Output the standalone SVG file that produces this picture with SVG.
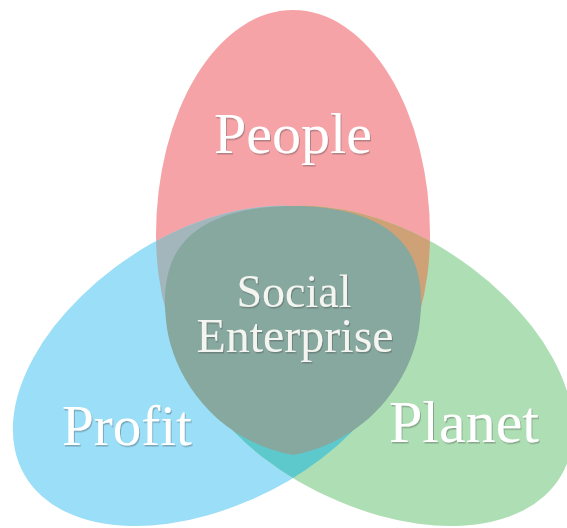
<svg xmlns="http://www.w3.org/2000/svg" width="567" height="528" viewBox="0 0 567 528">
  <style>
    .lbl { font-family: "Liberation Serif", "Times New Roman", serif; fill: #ffffff; text-anchor: middle; filter: url(#shadow); }
    .core { fill: #f4f4f0; }
  </style>
  <defs>
    <filter id="shadow" x="-10%" y="-20%" width="120%" height="140%">
      <feDropShadow dx="1" dy="1.5" stdDeviation="0.7" flood-color="#3a3a3a" flood-opacity="0.35"/>
    </filter>
    <!-- one egg-shaped petal pointing up (outer half taller than inner half);
         the other two are rotated about the hub (293,320) -->
    <path id="petal" d="M 156 235 A 137 225 0 0 1 430 235 A 137 205 0 0 1 156 235 Z"/>
    <clipPath id="clipPink"><use href="#petal"/></clipPath>
    <clipPath id="clipBlue"><use href="#petal" transform="rotate(-120 293 320)"/></clipPath>
  </defs>

  <rect width="567" height="528" fill="#ffffff"/>

  <g id="people">
    <use href="#petal" fill="#f5a3a7"/>
  </g>
  <g id="profit">
    <use href="#petal" fill="#9adef7" transform="rotate(-120 293 320)"/>
  </g>
  <g id="planet">
    <use href="#petal" fill="#aedfb4" transform="rotate(120 293 320)"/>
  </g>

  <!-- pairwise overlaps -->
  <g id="overlaps">
    <g clip-path="url(#clipPink)">
      <use href="#petal" fill="#a2b6bc" transform="rotate(-120 293 320)"/>
      <use href="#petal" fill="#cfa177" transform="rotate(120 293 320)"/>
    </g>
    <g clip-path="url(#clipBlue)">
      <use href="#petal" fill="#5dc9cd" transform="rotate(120 293 320)"/>
    </g>
  </g>

  <!-- centre: rounded triangle over the common area -->
  <g id="social-enterprise">
    <path fill="#86a89f" d="M 293 206 C 335 206, 385 215, 408 250 C 420 268, 423 295, 420 320 C 416 370, 375 440, 293 455 C 211 440, 170 370, 166 320 C 163 295, 166 268, 178 250 C 201 215, 251 206, 293 206 Z"/>
    <text class="lbl core" x="294" y="307" font-size="46">Social</text>
    <text class="lbl core" x="295" y="352" font-size="48">Enterprise</text>
  </g>

  <g id="labels">
    <text class="lbl" x="293" y="153" font-size="58">People</text>
    <text class="lbl" x="127" y="445" font-size="57">Profit</text>
    <text class="lbl" x="464" y="442" font-size="60">Planet</text>
  </g>
</svg>
